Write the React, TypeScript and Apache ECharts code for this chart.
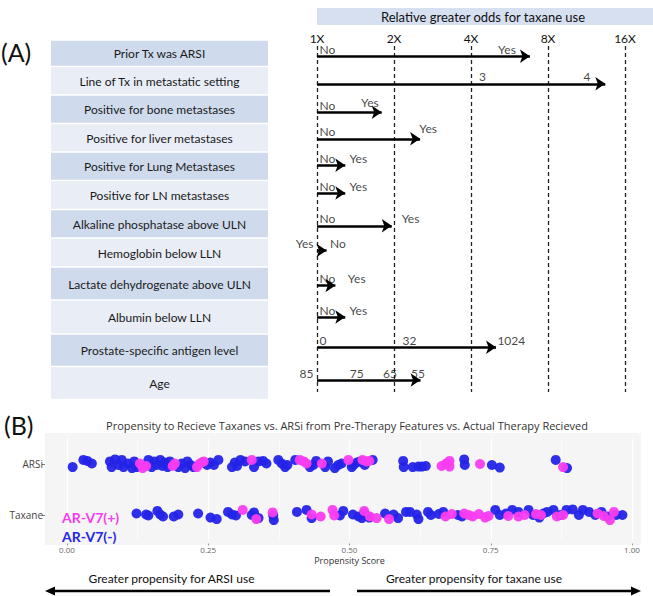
import React, { useEffect, useRef } from "react";
import * as echarts from "echarts";

// ---------- Panel A data ----------
const ROW_LABELS = [
  "Prior Tx was ARSI",
  "Line of Tx in metastatic setting",
  "Positive for bone metastases",
  "Positive for liver metastases",
  "Positive for Lung Metastases",
  "Positive for LN metastases",
  "Alkaline phosphatase above ULN",
  "Hemoglobin below LLN",
  "Lactate dehydrogenate above ULN",
  "Albumin below LLN",
  "Prostate-specific antigen level",
  "Age",
];
// relative odds (arrow tip) for each feature, starting at 1X
const ARROW_END = [6.8, 13.4, 1.79, 2.53, 1.29, 1.29, 1.96, 1.09, 1.18, 1.29, 5.01, 2.54];
// annotation labels on the arrows: [row, odds position, text, anchor]
const ARROW_LABELS: [number, number, string, string][] = [
  [0, 1, "No", "start"], [0, 5.53, "Yes", "middle"],
  [1, 4.44, "3", "middle"], [1, 11.36, "4", "middle"],
  [2, 1, "No", "start"], [2, 1.61, "Yes", "middle"],
  [3, 1, "No", "start"], [3, 2.72, "Yes", "middle"],
  [4, 1, "No", "start"], [4, 1.45, "Yes", "middle"],
  [5, 1, "No", "start"], [5, 1.45, "Yes", "middle"],
  [6, 1, "No", "start"], [6, 2.32, "Yes", "middle"],
  [7, 1, "Yes", "end"], [7, 1.1, "No", "start"],
  [8, 1, "No", "start"], [8, 1.43, "Yes", "middle"],
  [9, 1, "No", "start"], [9, 1.45, "Yes", "middle"],
  [10, 1, "0", "start"], [10, 2.11, "32", "start"], [10, 4.96, "1024", "start"],
  [11, 1, "85", "end"], [11, 1.43, "75", "middle"], [11, 1.93, "65", "middle"], [11, 2.48, "55", "middle"],
];

// ---------- Panel B data: [propensity score, vertical jitter] ----------
const ARSI_NEG: [number, number][] = [
  [0.010, -0.06], [0.029, 0.08], [0.036, 0.06], [0.044, 0.01], [0.076, 0.05], [0.079, -0.06], [0.085, 0.09],
  [0.091, -0.02], [0.097, 0.08], [0.100, -0.06], [0.108, 0.01], [0.115, -0.08], [0.119, 0.05], [0.123, -0.06],
  [0.144, 0.08], [0.150, -0.06], [0.154, 0.05], [0.159, -0.02], [0.165, 0.08], [0.169, -0.04], [0.173, 0.03],
  [0.178, -0.06], [0.182, 0.05], [0.197, -0.06], [0.203, 0.01], [0.209, -0.08], [0.213, 0.05], [0.219, -0.02],
  [0.224, -0.06], [0.248, -0.02], [0.254, 0.03], [0.260, -0.02], [0.268, 0.08], [0.292, -0.06], [0.297, 0.03],
  [0.301, -0.04], [0.307, 0.08], [0.315, 0.05], [0.331, -0.06], [0.339, 0.05], [0.347, 0.06], [0.353, 0.01],
  [0.374, 0.08], [0.380, 0.01], [0.386, -0.06], [0.390, -0.02], [0.404, 0.08], [0.430, -0.06], [0.436, -0.02],
  [0.441, 0.06], [0.457, -0.06], [0.462, 0.05], [0.474, -0.08], [0.480, -0.02], [0.486, 0.01], [0.504, -0.06],
  [0.507, -0.02], [0.513, 0.03], [0.519, 0.05], [0.527, -0.02], [0.541, 0.08], [0.595, 0.06], [0.596, -0.06],
  [0.612, -0.06], [0.622, -0.05], [0.628, -0.05], [0.635, -0.04], [0.703, 0.09], [0.704, -0.02], [0.752, -0.02],
  [0.766, -0.07], [0.865, 0.08], [0.885, -0.08],
];
const ARSI_POS: [number, number][] = [
  [0.129, 0.01], [0.134, -0.08], [0.140, -0.04], [0.187, -0.04], [0.191, 0.01], [0.230, -0.06], [0.234, 0.0],
  [0.238, 0.03], [0.242, 0.05], [0.327, 0.08], [0.412, 0.08], [0.419, 0.05], [0.424, 0.01], [0.451, 0.01],
  [0.498, 0.08], [0.523, 0.08], [0.530, 0.05], [0.535, 0.06], [0.663, -0.04], [0.671, 0.01], [0.677, 0.06],
  [0.677, -0.05], [0.731, 0.0], [0.878, -0.06],
];
const TAX_NEG: [number, number][] = [
  [0.123, 0.03], [0.140, 0.01], [0.144, -0.01], [0.160, 0.08], [0.165, 0.01], [0.170, -0.03], [0.189, -0.03],
  [0.197, 0.01], [0.232, 0.03], [0.254, -0.05], [0.265, -0.08], [0.285, 0.06], [0.292, 0.01], [0.299, -0.01],
  [0.327, 0.0], [0.331, 0.05], [0.339, -0.06], [0.365, -0.01], [0.366, -0.1], [0.407, 0.06], [0.424, 0.1],
  [0.433, -0.06], [0.483, -0.01], [0.489, 0.08], [0.506, 0.01], [0.516, -0.03], [0.522, -0.06], [0.526, 0.03],
  [0.530, -0.01], [0.535, -0.05], [0.563, 0.03], [0.578, 0.01], [0.586, -0.06], [0.600, 0.06], [0.607, 0.06],
  [0.619, 0.01], [0.622, -0.08], [0.639, 0.06], [0.644, 0.0], [0.658, 0.02], [0.666, 0.06], [0.692, 0.0],
  [0.699, -0.03], [0.758, 0.1], [0.766, 0.0], [0.777, 0.03], [0.788, 0.1], [0.799, 0.06], [0.817, 0.1],
  [0.825, 0.0], [0.836, -0.05], [0.843, 0.03], [0.850, 0.06], [0.861, 0.1], [0.873, 0.0], [0.884, 0.1],
  [0.895, 0.11], [0.906, 0.0], [0.913, 0.1], [0.924, 0.06], [0.935, 0.0], [0.946, 0.06], [0.957, -0.03],
  [0.972, 0.0], [0.983, 0.0],
];
const TAX_POS: [number, number][] = [
  [0.311, 0.1], [0.335, -0.08], [0.364, 0.05], [0.433, 0.01], [0.449, -0.03], [0.470, 0.1], [0.473, -0.01],
  [0.526, 0.08], [0.536, -0.03], [0.548, -0.06], [0.570, -0.08], [0.670, -0.03], [0.681, 0.02], [0.703, 0.03],
  [0.711, 0.0], [0.718, -0.03], [0.729, 0.02], [0.740, -0.05], [0.746, -0.02], [0.781, -0.02], [0.799, -0.03],
  [0.810, 0.0], [0.830, 0.02], [0.839, 0.0], [0.867, -0.03], [0.878, 0.0], [0.939, 0.03], [0.950, -0.02],
  [0.961, -0.1], [0.968, 0.06],
];
const THERAPY_ROWS = ["Taxane", "ARSi"];

// ---------- layout ----------
const ROW_EDGES = [40, 66.5, 95, 123.5, 152, 180.5, 209.5, 238, 267, 300, 334, 366.5, 399.5];
const ARROW_SHIFT = [3, 3, 3, 1, -1, -2, 2, -2, 2, 0, -3, -3];
const BLUE = "#2424e8";
const MAGENTA = "#f83cf0";
const CAL = "Lato";
const GG = "Open Sans";

export default function App() {
  const ref = useRef<HTMLDivElement>(null);
  useEffect(() => {
    const chart = echarts.init(ref.current!, null, { renderer: "svg" });
    const rowMid = (i: number) => (ROW_EDGES[i] + ROW_EDGES[i + 1]) / 2;
    const arrowY = (i: number) => rowMid(i) + ARROW_SHIFT[i];

    const graphics: any[] = [];
    graphics.push({ type: "text", x: 1, y: 52, style: { text: "(A)", fontSize: 25, fontFamily: CAL, fill: "#111", verticalAlign: "middle" } });
    graphics.push({ type: "text", x: 4, y: 425, style: { text: "(B)", fontSize: 25, fontFamily: CAL, fill: "#111", verticalAlign: "middle" } });
    graphics.push({ type: "rect", shape: { x: 317, y: 8, width: 336, height: 17 }, style: { fill: "#d6e0f1" } });
    graphics.push({
      type: "text", x: 483, y: 16.5,
      style: { text: "Relative greater odds for taxane use", fontSize: 13, fontFamily: CAL, fill: "#111", align: "center", verticalAlign: "middle" },
    });
    ROW_LABELS.forEach((t, i) => {
      const top = ROW_EDGES[i] + 0.8;
      const h = ROW_EDGES[i + 1] - ROW_EDGES[i] - 1.6;
      graphics.push({ type: "rect", shape: { x: 51, y: top, width: 217, height: h }, style: { fill: i % 2 === 0 ? "#cfdaed" : "#e8edf6" } });
      graphics.push({
        type: "text", x: 159.5, y: rowMid(i) + 0.5,
        style: { text: t, fontSize: 12, fontFamily: CAL, fill: "#1a1a1a", align: "center", verticalAlign: "middle" },
      });
    });
    // panel B
    graphics.push({ type: "rect", z: -1, shape: { x: 45, y: 433, width: 596, height: 112 }, style: { fill: "#f5f5f5" } });
    graphics.push({
      type: "text", x: 347, y: 425.5,
      style: {
        text: "Propensity to Recieve Taxanes vs. ARSi from Pre-Therapy Features vs. Actual Therapy Recieved",
        fontSize: 11, fontFamily: GG, fill: "#333", align: "center", verticalAlign: "middle",
      },
    });
    graphics.push({ type: "text", x: 62, y: 517, z: 10, style: { text: "AR-V7(+)", fontSize: 14, fontWeight: "bold", fontFamily: CAL, fill: MAGENTA, verticalAlign: "middle" } });
    graphics.push({ type: "text", x: 62, y: 536, z: 10, style: { text: "AR-V7(-)", fontSize: 14, fontWeight: "bold", fontFamily: CAL, fill: BLUE, verticalAlign: "middle" } });
    graphics.push({ type: "text", x: 171.5, y: 578, style: { text: "Greater propensity for ARSI use", fontSize: 12, fontFamily: CAL, fill: "#111", align: "center", verticalAlign: "middle" } });
    graphics.push({ type: "text", x: 474, y: 578, style: { text: "Greater propensity for taxane use", fontSize: 12, fontFamily: CAL, fill: "#111", align: "center", verticalAlign: "middle" } });
    graphics.push({ type: "line", shape: { x1: 330, y1: 591, x2: 52, y2: 591 }, style: { stroke: "#000", lineWidth: 2.5 } });
    graphics.push({ type: "polygon", shape: { points: [[45, 591], [55, 586.5], [55, 595.5]] }, style: { fill: "#000" } });
    graphics.push({ type: "line", shape: { x1: 357, y1: 591, x2: 634, y2: 591 }, style: { stroke: "#000", lineWidth: 2.5 } });
    graphics.push({ type: "polygon", shape: { points: [[641, 591], [631, 586.5], [631, 595.5]] }, style: { fill: "#000" } });

    const labelData = ARROW_LABELS.map(([row, x, text, anchor]) => {
      const raise = text === "Yes" && (row === 2 || row === 3) ? 10 : 7;
      const pos = anchor === "start" ? "right" : anchor === "end" ? "left" : "inside";
      return {
        value: [x, arrowY(row) - raise],
        label: { formatter: text, position: pos, distance: anchor === "end" ? 3 : 2 },
      };
    });

    const option: any = {
      animation: false,
      graphic: graphics,
      grid: [
        { left: 317, top: 46, width: 308, height: 346 },
        { left: 67, top: 438.5, width: 565, height: 102 },
      ],
      xAxis: [
        {
          gridIndex: 0, type: "log", logBase: 2, min: 1, max: 16, position: "top",
          axisLine: { show: false }, axisTick: { show: false },
          axisLabel: { formatter: (v: number) => `${v}X`, margin: 2, fontFamily: CAL, fontSize: 12, color: "#111" },
          splitLine: { show: true, lineStyle: { color: "#222", type: [4, 3], width: 1.3 } },
        },
        {
          gridIndex: 1, type: "value", min: 0, max: 1, interval: 0.25, offset: 3,
          axisLine: { show: false },
          axisTick: { show: true, length: 2, lineStyle: { color: "#999" } },
          axisLabel: { formatter: (v: number) => v.toFixed(2), margin: 2, fontFamily: GG, fontSize: 8, color: "#666" },
          splitLine: { show: true, lineStyle: { color: "#ffffff", width: 1.2 } },
          minorTick: { show: false, splitNumber: 2 },
          minorSplitLine: { show: true, lineStyle: { color: "#ffffff", width: 0.6 } },
          name: "Propensity Score", nameLocation: "middle", nameGap: 12,
          nameTextStyle: { fontFamily: GG, fontSize: 9, color: "#333" },
        },
      ],
      yAxis: [
        { gridIndex: 0, type: "value", min: 46, max: 392, inverse: true, show: false },
        { gridIndex: 1, type: "value", min: 0.5, max: 2.5, show: false, position: "right" },
        {
          gridIndex: 1, type: "category", data: THERAPY_ROWS, position: "left", offset: 22,
          axisLine: { show: false },
          axisTick: { show: true, length: 3, alignWithLabel: true, lineStyle: { color: "#777" } },
          axisLabel: { margin: 2, fontFamily: GG, fontSize: 10, color: "#444" },
          splitLine: { show: false },
        },
      ],
      series: [
        {
          type: "lines", coordinateSystem: "cartesian2d", xAxisIndex: 0, yAxisIndex: 0,
          symbol: ["none", "arrow"], symbolSize: 10, silent: true, z: 3,
          lineStyle: { color: "#000", width: 2.5, opacity: 1 },
          data: ARROW_END.map((end, i) => ({ coords: [[1, arrowY(i)], [end, arrowY(i)]] })),
        },
        {
          type: "scatter", xAxisIndex: 0, yAxisIndex: 0, symbolSize: 1, clip: false, silent: true,
          itemStyle: { color: "rgba(0,0,0,0)" },
          label: { show: true, color: "#111", fontFamily: CAL, fontSize: 12 },
          data: labelData,
        },
        {
          type: "scatter", name: "AR-V7(-) ARSi", xAxisIndex: 1, yAxisIndex: 1, symbolSize: 10, z: 3,
          itemStyle: { color: BLUE, opacity: 0.95 },
          data: ARSI_NEG.map(([p, j]) => [p, 2 + j]),
        },
        {
          type: "scatter", name: "AR-V7(-) Taxane", xAxisIndex: 1, yAxisIndex: 1, symbolSize: 10, z: 3,
          itemStyle: { color: BLUE, opacity: 0.95 },
          data: TAX_NEG.map(([p, j]) => [p, 1 + j]),
        },
        {
          type: "scatter", name: "AR-V7(+) ARSi", xAxisIndex: 1, yAxisIndex: 1, symbolSize: 10, z: 4,
          itemStyle: { color: MAGENTA, opacity: 0.95 },
          data: ARSI_POS.map(([p, j]) => [p, 2 + j]),
        },
        {
          type: "scatter", name: "AR-V7(+) Taxane", xAxisIndex: 1, yAxisIndex: 1, symbolSize: 10, z: 4,
          itemStyle: { color: MAGENTA, opacity: 0.95 },
          data: TAX_POS.map(([p, j]) => [p, 1 + j]),
        },
      ],
    };
    chart.setOption(option);
    return () => chart.dispose();
  }, []);
  return <div ref={ref} style={{ position: "absolute", left: 0, top: 0, width: 653, height: 596 }} />;
}
